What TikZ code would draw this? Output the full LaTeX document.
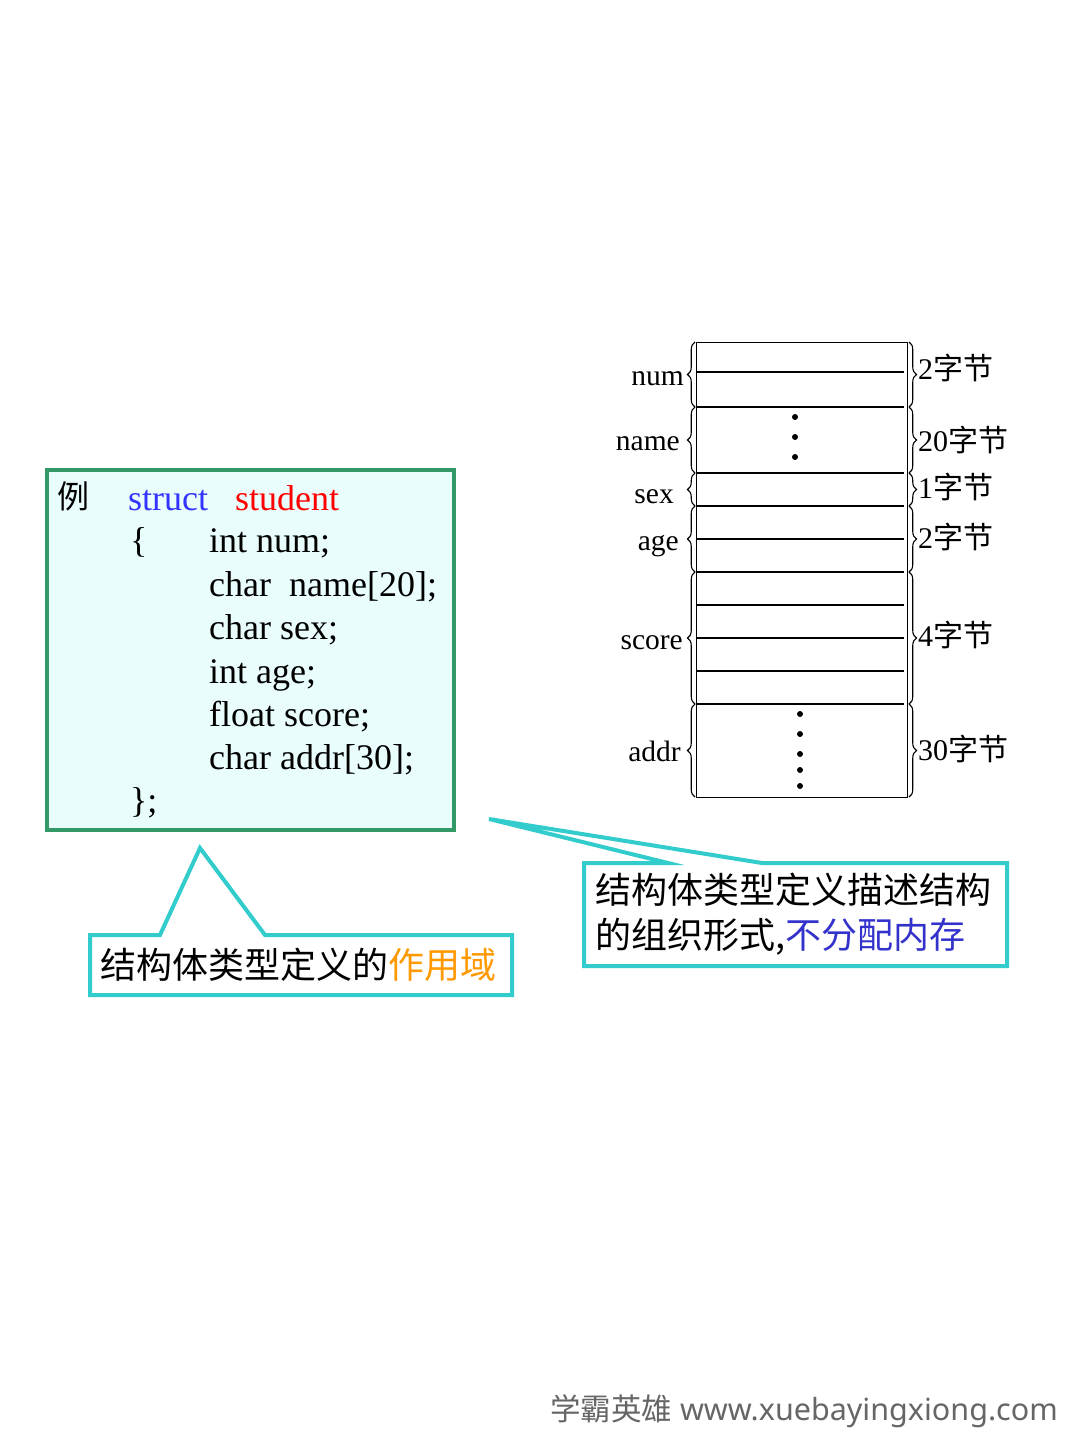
\documentclass[tikz,border=0pt]{standalone}
\usepackage{fontspec}
\setmainfont{Liberation Serif}
\newfontfamily\cjk{Noto Sans CJK SC}
\newfontfamily\wmfont{Noto Sans}
\newfontfamily\wmcjk{Noto Sans CJK SC Medium}
\usetikzlibrary{decorations.pathreplacing}
\definecolor{kwblue}{RGB}{51,51,255}
\definecolor{kwred}{RGB}{255,0,0}
\definecolor{boxgreen}{RGB}{51,153,102}
\definecolor{boxfill}{RGB}{234,253,253}
\definecolor{callcyan}{RGB}{51,204,204}
\definecolor{orng}{RGB}{255,153,0}
\definecolor{dblue}{RGB}{51,51,204}
\definecolor{wmgray}{RGB}{102,102,102}
\tikzset{
  memlbl/.style={inner sep=0pt, anchor=base east, font=\fontsize{29.5}{32}\selectfont},
  sizelbl/.style={inner sep=0pt, anchor=base west, font=\fontsize{30}{32}\selectfont},
  codetxt/.style={inner sep=0pt, anchor=base west, font=\fontsize{36}{40}\selectfont},
  calltxt/.style={inner sep=0pt, anchor=west, font=\cjk\fontsize{36}{45}\selectfont, align=left},
  membrace/.style={decorate, decoration={brace, amplitude=7.5pt}, line width=1.1pt},
  cellline/.style={line width=1.1pt},
  callout/.style={draw=callcyan, line width=4pt, fill=white, line join=miter},
  dotmark/.style={fill=black}
}
\begin{document}
\begin{tikzpicture}[x=1pt,y=-1pt]
\useasboundingbox (0,0) rectangle (1080,1440);
\fill[white] (0,0) rectangle (1080,1440);

% ---------- memory layout ----------
\node[draw, line width=1.3pt, minimum width=211pt, minimum height=455pt, anchor=north west, inner sep=0pt] (mem) at (696,342) {};
\foreach \yy in {372,407,473,506,539,572,605,638,671,704}
  \draw[cellline] (696,\yy) -- (904,\yy);
\foreach \yy in {417,437,457} \fill[dotmark] (795,\yy) circle (3);
\foreach \yy in {714,734,754,770,786} \fill[dotmark] (800,\yy) circle (3);

% left braces
\draw[membrace] (695,407) -- (695,342);
\draw[membrace] (695,473) -- (695,407);
\draw[membrace] (695,506) -- (695,473);
\draw[membrace] (695,572) -- (695,506);
\draw[membrace] (695,704) -- (695,572);
\draw[membrace] (695,797) -- (695,704);
% right braces
\draw[membrace] (909,342) -- (909,407);
\draw[membrace] (909,407) -- (909,473);
\draw[membrace] (909,473) -- (909,506);
\draw[membrace] (909,506) -- (909,572);
\draw[membrace] (909,572) -- (909,704);
\draw[membrace] (909,704) -- (909,797);

\node[memlbl] (lnum) at (684,385) {num};
\node[memlbl] (lname) at (680,450) {name};
\node[memlbl] (lsex) at (674,503) {sex};
\node[memlbl] (lage) at (679,550) {age};
\node[memlbl] (lscore) at (683,649) {score};
\node[memlbl] (laddr) at (681,761) {addr};

\node[sizelbl] (snum) at (918,379) {2{\cjk 字节}};
\node[sizelbl] (sname) at (918,451) {20{\cjk 字节}};
\node[sizelbl] (ssex) at (918,498) {1{\cjk 字节}};
\node[sizelbl] (sage) at (918,548) {2{\cjk 字节}};
\node[sizelbl] (sscore) at (918,646) {4{\cjk 字节}};
\node[sizelbl] (saddr) at (918,760) {30{\cjk 字节}};

% ---------- code box ----------
\node[draw=boxgreen, fill=boxfill, line width=4pt, minimum width=407pt, minimum height=360pt, anchor=north west, inner sep=0pt] (code) at (44.5,467.5) {};
\node[codetxt, font=\cjk\fontsize{32}{36}\selectfont] (li) at (57,508) {例};
\node[codetxt, text=kwblue] (kstruct) at (128,510) {struct};
\node[codetxt, text=kwred] (kstudent) at (235,510) {student};
\node[codetxt] (lbrace) at (130,552) {\{};
\node[codetxt] (c1) at (209,552) {int num;};
\node[codetxt] (c2) at (209,596) {char\ \ name[20];};
\node[codetxt] (c3) at (209,639) {char sex;};
\node[codetxt] (c4) at (209,683) {int age;};
\node[codetxt] (c5) at (209,726) {float score;};
\node[codetxt] (c6) at (209,769) {char addr[30];};
\node[codetxt] (rbrace) at (130,812) {\};};

% ---------- callout 1 ----------
\draw[callout] (90,935) -- (160,935) -- (200,848) -- (265,935) -- (512,935) -- (512,995) -- (90,995) -- cycle;
\node[calltxt] (t1) at (100,965) {结构体类型定义的\textcolor{orng}{作用域}};

% ---------- callout 2 ----------
\draw[callout] (584,863) -- (668,863) -- (489,819) -- (762,863) -- (1007,863) -- (1007,966) -- (584,966) -- cycle;
\node[calltxt] (t2) at (595,914) {结构体类型定义描述结构\\的组织形式,\textcolor{dblue}{不分配内存}};

% ---------- watermark ----------
\node[inner sep=0pt, anchor=east, text=wmgray, font=\fontsize{30.5}{34}\selectfont] (wm) at (1058,1411) {{\cjk 学霸英雄} {\wmfont www.xuebayingxiong.com}};
\end{tikzpicture}
\end{document}
